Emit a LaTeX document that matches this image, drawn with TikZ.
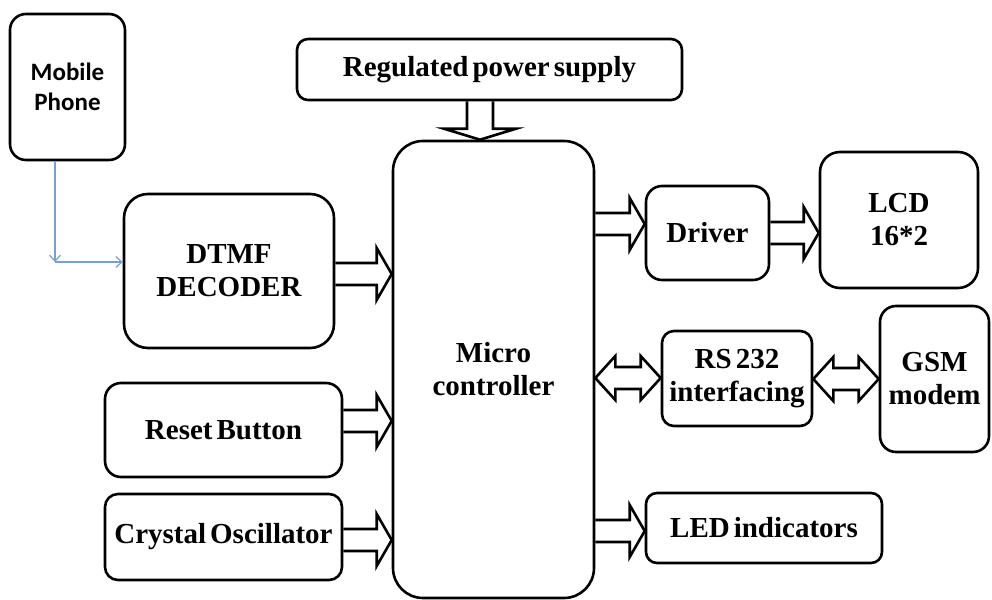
\documentclass[tikz,border=0pt]{standalone}
\usepackage{fontspec}
\setmainfont{Liberation Serif}
\newfontfamily\phonefont{Carlito}
\newcommand\boxfont{\rmfamily\bfseries\fontsize{29}{33}\selectfont\spaceskip=4pt plus 1pt minus 1pt\relax}
\usetikzlibrary{calc,arrows.meta}
\definecolor{linkblue}{RGB}{120,160,205}
\begin{document}
\begin{tikzpicture}[x=1pt,y=-1pt,
  box/.style={draw, line width=2.6pt, rounded corners=#1, inner sep=0pt, align=center,
    font=\boxfont},
  box/.default=14pt,
  blockR/.style={line width=2.6pt, line join=miter,
    to path={let \p1=(\tikztostart), \p2=(\tikztotarget) in
      (\x1,\y1+11pt) -- (\x2-15pt,\y2+11pt) -- (\x2-15pt,\y2+26pt) -- (\x2,\y2)
      -- (\x2-15pt,\y2-26pt) -- (\x2-15pt,\y2-11pt) -- (\x1,\y1-11pt)}},
  blockD/.style={line width=2.6pt, line join=miter,
    to path={let \p1=(\tikztostart), \p2=(\tikztotarget) in
      (\x1-13pt,\y1) -- (\x2-13pt,\y2+11pt) -- (\x2-36pt,\y2+11pt) -- (\x2,\y2)
      -- (\x2+36pt,\y2+11pt) -- (\x2+13pt,\y2+11pt) -- (\x1+13pt,\y1)}},
  blockLR/.style={line width=2.6pt, line join=miter,
    to path={let \p1=(\tikztostart), \p2=(\tikztotarget) in
      (\x1+20pt,\y1+11pt) -- (\x2-20pt,\y2+11pt) -- (\x2-20pt,\y2+22pt) -- (\x2,\y2)
      -- (\x2-20pt,\y2-22pt) -- (\x2-20pt,\y2-11pt) -- (\x1+20pt,\y1-11pt)
      -- (\x1+20pt,\y1-22pt) -- (\x1,\y1) -- (\x1+20pt,\y1+22pt) -- cycle}},
  bluelink/.style={draw=linkblue, line width=1.2pt,
    -{Straight Barb[length=6pt,width=11pt]}}
]
\useasboundingbox (0,0) rectangle (992,599);

% boxes
\node[box=16pt, minimum width=115pt, minimum height=146pt,
  font=\phonefont\bfseries\fontsize{25}{30}\selectfont] (phone) at (67.5,87) {Mobile\\Phone};
\node[box=24pt, minimum width=210pt, minimum height=154pt] (dtmf) at (229,271) {DTMF\\DECODER};
\node[box=11pt, minimum width=385pt, minimum height=61pt] (rps) at (489.5,69.5) {Regulated power supply};
\node[box=30pt, minimum width=201pt, minimum height=457pt] (micro) at (493.5,369.5) {Micro\\controller};
\node[box=16pt, minimum width=123pt, minimum height=94pt] (driver) at (707.5,233) {Driver};
\node[box=20pt, minimum width=158pt, minimum height=136pt] (lcd) at (899,220) {LCD\\16*2};
\node[box=12pt, minimum width=150pt, minimum height=95pt] (rs) at (737,378.5) {RS 232\\interfacing};
\node[box=16pt, minimum width=109pt, minimum height=146pt] (gsm) at (934.5,379) {GSM\\modem};
\node[box=16pt, minimum width=237pt, minimum height=94pt] (reset) at (223.5,430) {Reset Button};
\node[box=13pt, minimum width=237pt, minimum height=86pt] (crystal) at (223.5,537) {Crystal Oscillator};
\node[box=11pt, minimum width=236pt, minimum height=70pt] (led) at (764,528) {LED indicators};

% blue connector
\coordinate (bend) at (55,262);
\draw[bluelink] (phone.south -| bend) -- (bend);
\draw[bluelink] (bend) -- (dtmf.west |- bend);

% block arrows
\draw[blockD] (rps.south -| 480,0) to (micro.north -| 480,0);
\draw[blockR] (dtmf.east |- 0,274) to (micro.west |- 0,274);
\draw[blockR] (reset.east |- 0,421) to (micro.west |- 0,421);
\draw[blockR] (crystal.east |- 0,540) to (micro.west |- 0,540);
\draw[blockR] (micro.east |- 0,224) to (driver.west |- 0,224);
\draw[blockR] (driver.east |- 0,233) to (lcd.west |- 0,233);
\draw[blockR] (micro.east |- 0,531) to (led.west |- 0,531);
\draw[blockLR] (micro.east |- 0,378) to (rs.west |- 0,378);
\draw[blockLR] (rs.east |- 0,379) to (gsm.west |- 0,379);
\end{tikzpicture}
\end{document}
